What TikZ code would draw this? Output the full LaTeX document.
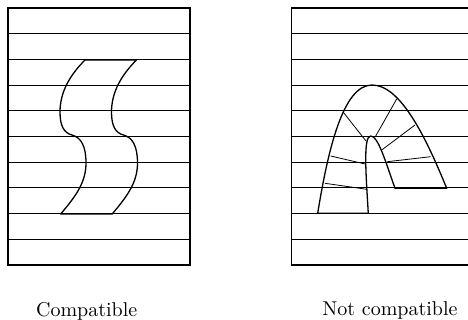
\documentclass[tikz,border=0pt]{standalone}
\usepackage{tikz}
\usetikzlibrary{positioning}
\tikzset{every node/.style={font=\normalsize}}

\begin{document}
\begin{tikzpicture}[
x=0.5pt, y=-0.5pt,
frame/.style={line width=0.75pt},
band/.style={line width=0.4pt},
fold/.style={line width=0.65pt, line join=round},
ray/.style={line width=0.4pt},
caption/.style={inner sep=0pt}
]
\useasboundingbox (0,0) rectangle (468,320);

% left panel
\foreach \k in {1,...,9}
  \draw[band] (8,8+25.7*\k) -- (190,8+25.7*\k);
\draw[frame] (8,8) rectangle (190,265);

\draw[fold] (85,60) .. controls (70,75) and (60,92) .. (60,112)
  .. controls (60,126) and (64,133) .. (72,135)
  .. controls (81,137.5) and (86,146) .. (86,163)
  .. controls (86,183) and (75,197) .. (60.7,214)
  -- (112.2,214)
  .. controls (126.5,197) and (137.5,183) .. (137.5,163)
  .. controls (137.5,146) and (132.5,137.5) .. (123.5,135)
  .. controls (115.5,133) and (111.5,126) .. (111.5,112)
  .. controls (111.5,92) and (121.5,75) .. (136.5,60)
  -- cycle;

\node[caption] (compat) at (86.7,311) {Compatible};

% right panel
\foreach \k in {1,...,9}
  \draw[band] (291.7,8+25.7*\k) -- (474,8+25.7*\k);
\draw[frame] (291.7,8) rectangle (474,265);

\draw[fold] (317.7,213.3) .. controls (328,150) and (343,85) .. (372,85)
  .. controls (400,85) and (425,135) .. (446.7,188.3)
  -- (395,188.3)
  .. controls (385,160) and (378,136) .. (370.7,136)
  .. controls (363,136) and (366,175) .. (368.3,213.3)
  -- cycle;

% cross cuts
\draw[ray] (343.3,112.3) -- (366,141);
\draw[ray] (396.7,99) -- (375,137.3);
\draw[ray] (415,125) -- (381.7,150);
\draw[ray] (430.7,156.7) -- (387.3,161.7);
\draw[ray] (330.7,156) -- (365,164);
\draw[ray] (325,183.3) -- (366.7,189.3);

\node[caption] (notcompat) at (390,311) {Not compatible};
\end{tikzpicture}
\end{document}
